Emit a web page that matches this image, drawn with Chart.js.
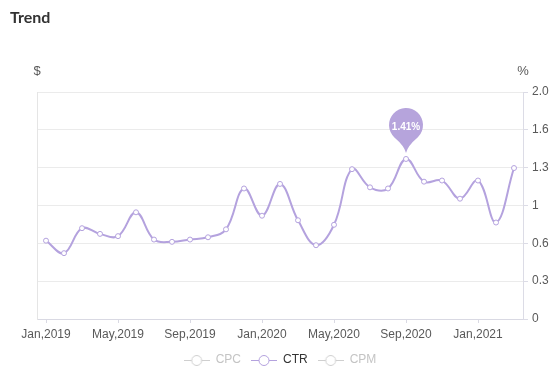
<!DOCTYPE html>
<html><head><meta charset="utf-8">
<script src="https://cdn.jsdelivr.net/npm/chart.js@4.4.1/dist/chart.umd.min.js"></script>
<style>
html,body{margin:0;padding:0;background:#fff;overflow:hidden}
#wrap{position:relative;width:549px;height:383px}
#title{position:absolute;left:10px;top:5px;font:700 16px Lato, sans-serif;color:#333;line-height:24px}
canvas{position:absolute;left:0;top:0}
</style></head><body>
<div id="wrap"><canvas id="c" width="549" height="383"></canvas><div id="title">Trend</div></div>
<script>
const categories = ['Jan,2019','Feb,2019','Mar,2019','Apr,2019','May,2019','Jun,2019','Jul,2019','Aug,2019','Sep,2019','Oct,2019','Nov,2019','Dec,2019',
  'Jan,2020','Feb,2020','Mar,2020','Apr,2020','May,2020','Jun,2020','Jul,2020','Aug,2020','Sep,2020','Oct,2020','Nov,2020','Dec,2020',
  'Jan,2021','Feb,2021','Mar,2021'];
const ctrValues = [0.69,0.58,0.80,0.75,0.73,0.94,0.70,0.68,0.70,0.72,0.79,1.15,0.91,1.19,0.87,0.65,0.83,1.32,1.16,1.15,1.41,1.21,1.22,1.06,1.22,0.85,1.33];
const cpcValues = [];
const cpmValues = [];
const seriesNames = ['CPC','CTR','CPM'];
const yTickValues = [0, 1/3, 2/3, 1, 4/3, 5/3, 2];
const yTickLabels = ['0','0.33','0.67','1','1.33','1.67','2.00'];
const leftAxisTitle = '$';
const rightAxisTitle = '%';

const PURPLE = '#b4a2de';
const GRAY = '#cfcfcf';
Chart.defaults.font.family = '"Liberation Sans", Arial, sans-serif';

function marker(color){
  const c = document.createElement('canvas'); c.width = 26; c.height = 12;
  const g = c.getContext('2d');
  g.strokeStyle = color; g.lineWidth = 1;
  g.beginPath(); g.moveTo(0, 6.5); g.lineTo(26, 6.5); g.stroke();
  g.beginPath(); g.arc(13, 6.5, 5, 0, Math.PI * 2); g.fillStyle = '#fff'; g.fill(); g.stroke();
  return c;
}
const markers = [marker(GRAY), marker(PURPLE), marker(GRAY)];

const extras = {
  id: 'extras',
  afterDraw(chart){
    const ctx = chart.ctx, a = chart.chartArea;
    ctx.save();
    ctx.font = '13px "Liberation Sans", Arial, sans-serif';
    ctx.fillStyle = '#595959'; ctx.textAlign = 'center'; ctx.textBaseline = 'middle';
    ctx.fillText(leftAxisTitle, a.left, a.top - 21);
    ctx.fillText(rightAxisTitle, a.right, a.top - 21);
    let mi = 0; ctrValues.forEach((v, i) => { if (v > ctrValues[mi]) mi = i; });
    const pt = chart.getDatasetMeta(1).data[mi];
    const px = pt.x, py = pt.y;
    const r = 17, cy = py - 34, tipY = py - 6, phi = 0.75;
    const lx = px + r * Math.cos(Math.PI / 2 + phi), ly = cy + r * Math.sin(Math.PI / 2 + phi);
    ctx.beginPath();
    ctx.moveTo(px, tipY);
    ctx.quadraticCurveTo(px - 1.5, tipY - 7, lx, ly);
    ctx.arc(px, cy, r, Math.PI / 2 + phi, Math.PI / 2 - phi + Math.PI * 2);
    ctx.quadraticCurveTo(px + 1.5, tipY - 7, px, tipY);
    ctx.closePath();
    ctx.fillStyle = '#b6a4dc'; ctx.fill();
    ctx.fillStyle = '#fff'; ctx.font = 'bold 10px "Liberation Sans", Arial, sans-serif';
    ctx.fillText(ctrValues[mi].toFixed(2) + '%', px, cy + 2);
    ctx.restore();
  }
};

new Chart(document.getElementById('c'), {
  type: 'line',
  data: {
    labels: categories,
    datasets: [
      { label: seriesNames[0], data: cpcValues, yAxisID: 'y', hidden: true, borderColor: GRAY },
      { label: seriesNames[1], data: ctrValues, yAxisID: 'y1', borderColor: PURPLE, borderWidth: 2, tension: 0.4,
        pointRadius: 2.5, pointBackgroundColor: '#fff', pointBorderColor: PURPLE, pointBorderWidth: 1, fill: false },
      { label: seriesNames[2], data: cpmValues, yAxisID: 'y', hidden: true, borderColor: GRAY }
    ]
  },
  options: {
    responsive: false, animation: false, devicePixelRatio: 1,
    layout: { padding: { left: 37, right: 0, top: 92, bottom: 7 } },
    plugins: {
      tooltip: { enabled: false },
      legend: {
        position: 'bottom', fullSize: false, onClick: null,
        labels: {
          usePointStyle: true, pointStyleWidth: 26, padding: 10, font: { size: 12 },
          generateLabels: () => seriesNames.map((n, i) => ({
            text: n, pointStyle: markers[i], fontColor: i === 1 ? '#333' : '#c4c4c4',
            hidden: false, datasetIndex: i, lineWidth: 0, strokeStyle: 'transparent', fillStyle: 'transparent'
          }))
        }
      }
    },
    scales: {
      x: {
        type: 'category', offset: true,
        grid: { display: true, drawOnChartArea: false, tickLength: 4, color: '#d9d9e3' },
        border: { color: '#d9d9e3' },
        ticks: { autoSkip: false, maxRotation: 0, padding: 4, color: '#595959', font: { size: 12 } },
        afterBuildTicks: s => { s.ticks = s.ticks.filter((t, i) => i % 4 === 0); },
        afterFit: s => { s.height = 25; }
      },
      y: {
        position: 'left', min: 0, max: 2,
        ticks: { display: false },
        grid: { drawOnChartArea: false, drawTicks: false },
        border: { color: '#e5e5e5' }
      },
      y1: {
        position: 'right', min: 0, max: 2,
        afterBuildTicks: s => { s.ticks = yTickValues.map(v => ({ value: v })); },
        ticks: { callback: (v, i) => yTickLabels[i], padding: 4, color: '#595959', font: { size: 12 } },
        grid: { color: '#ebebeb', tickLength: 5, tickColor: '#dcdce6' },
        border: { color: '#dcdce6' },
        afterFit: s => { s.width = 26; }
      }
    }
  },
  plugins: [extras]
});
</script>
</body></html>
